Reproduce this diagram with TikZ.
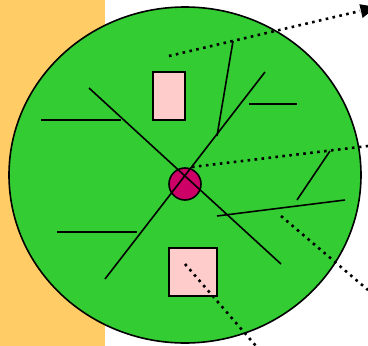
\documentclass[tikz,border=0pt]{standalone}
\usepackage{tikz}
\definecolor{sandbg}{HTML}{FFCC66}
\definecolor{leafgreen}{HTML}{33CC33}
\definecolor{boxpink}{HTML}{FFCCCC}
\definecolor{hubred}{HTML}{CC0066}
\tikzset{
  vein/.style={line width=1.6pt},
  ray/.style={line width=2.6pt, dash pattern=on 2.6pt off 4.4pt},
  cellbox/.style={draw, fill=boxpink, line width=1.8pt}
}
\begin{document}
\begin{tikzpicture}[x=1pt, y=-1pt]
    \useasboundingbox (0,0) rectangle (368,346);
    % background strip
    \fill[sandbg] (0,0) rectangle (105,346);
    % leaf disc
    \draw[fill=leafgreen, line width=1.6pt] (185,175) ellipse (176 and 168);
    % boxes
    \draw[cellbox] (153,72) rectangle (185,120);
    \draw[cellbox] (169,248) rectangle (217,296);
    % hub
    \coordinate (hub) at (185,184);
    \draw[fill=hubred, line width=1.6pt] (hub) circle (16);
    % main veins through the hub
    \draw[vein] (89,88) -- (281,264);
    \draw[vein] (265,72) -- (105,279);
    % side veins
    \draw[vein] (41,120) -- (121,120);
    \draw[vein] (57,232) -- (137,232);
    \draw[vein] (233,41) -- (217,136);
    \draw[vein] (249,104) -- (297,104);
    \draw[vein] (330,151) -- (297,200);
    \draw[vein] (217,216) -- (345,200);
    % dotted rays, arrow head cut by the page edge
    \coordinate (tipA) at (360,11);
    \draw[ray] (169,56) -- (tipA);
    \begin{scope}
      \clip (0,0) rectangle (368,346);
      \fill (376,7) -- (362.6,18) -- (359.4,4.2) -- cycle;
    \end{scope}
    \draw[ray] (192,167) -- (368,146);
    \draw[ray] (281,216) -- (368,290);
    \draw[ray] (185,264) -- (256,346);
\end{tikzpicture}
\end{document}
